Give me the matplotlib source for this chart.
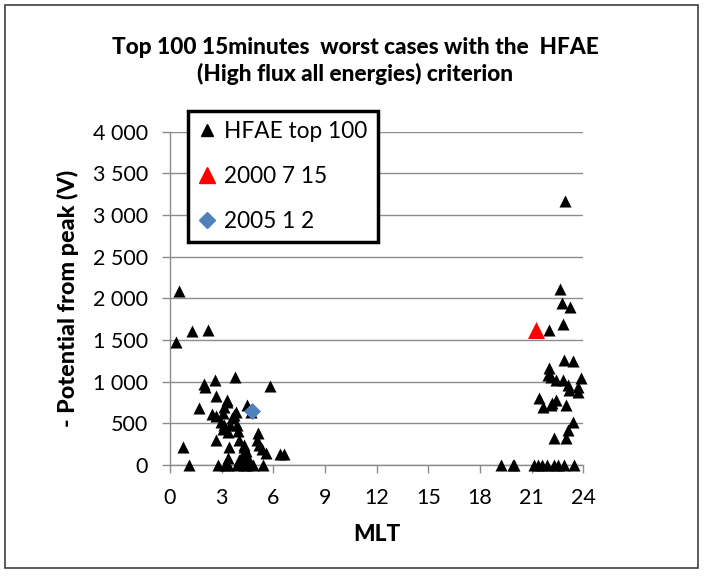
"""Top 100 HFAE worst cases: potential from peak versus MLT."""

import matplotlib
matplotlib.use("Agg")
import matplotlib.pyplot as plt
from matplotlib.lines import Line2D
from matplotlib.patches import Rectangle

plt.rcParams["font.family"] = ["Lato", "DejaVu Sans"]

# HFAE top 100 (black triangles)
mlt_top100 = [
    0.53, 0.37, 1.26, 2.23, 0.74, 1.10, 1.68, 1.97, 2.05, 2.60,
    2.70, 2.44, 2.65, 3.29, 3.15, 3.76, 4.47, 5.81, 2.70, 3.44,
    2.97, 3.10, 3.63, 3.81, 3.89, 3.50, 3.97, 4.02, 4.28, 4.42,
    4.50, 4.68, 5.13, 5.07, 5.34, 5.60, 6.39, 6.65, 2.80, 3.20,
    3.35, 3.90, 4.30, 4.50, 4.80, 5.40, 3.36, 4.02, 3.07, 3.74,
    3.16, 3.35, 4.32, 5.19, 4.20, 4.60, 3.30,
    22.95, 22.63, 22.77, 23.21, 22.82, 22.03, 22.90, 23.40, 22.03, 21.95,
    22.12, 22.41, 22.82, 23.87, 23.09, 23.19, 23.67, 23.67, 21.45, 21.64,
    22.12, 22.41, 22.20, 23.00, 23.38, 23.09, 22.32, 23.00,
    19.22, 19.90, 19.98, 21.15, 21.40, 21.60, 21.91, 22.32, 22.56, 22.90,
    23.48,
]
pot_top100 = [
    2090, 1470, 1605, 1625, 210, 0, 685, 970, 940, 1015,
    830, 610, 590, 780, 700, 1055, 720, 945, 300, 210,
    520, 435, 565, 630, 480, 480, 410, 300, 235, 170,
    80, 630, 380, 300, 190, 145, 135, 135, 0, 0,
    0, 0, 0, 0, 0, 0, 80, 60, 620, 600,
    480, 400, 210, 240, 105, 65, 760,
    3170, 2115, 1940, 1890, 1690, 1625, 1260, 1245, 1160, 1075,
    1060, 1020, 1025, 1045, 960, 900, 930, 875, 800, 700,
    720, 780, 740, 720, 520, 420, 320, 320,
    0, 0, 0, 0, 0, 0, 0, 0, 0, 0,
    0,
]

# highlighted events
mlt_20000715 = [21.24]
pot_20000715 = [1615]
mlt_20050102 = [4.75]
pot_20050102 = [650]

x_ticks = [0, 3, 6, 9, 12, 15, 18, 21, 24]
y_ticks = [0, 500, 1000, 1500, 2000, 2500, 3000, 3500, 4000]
y_tick_labels = ["0", "500", "1 000", "1 500", "2 000", "2 500", "3 000", "3 500", "4 000"]

GRID_COLOR = "#8c8c8c"
FS_TICK = 15.5
FS_TEXT = 16.3


def main() -> None:
    fig = plt.figure(figsize=(7.1, 5.8), dpi=100)
    ax = fig.add_axes([0.2394, 0.1983, 0.5821, 0.5747])

    # outer chart frame
    fig.patches.append(Rectangle((5 / 710, 12 / 580), 693 / 710, 563 / 580,
                                 transform=fig.transFigure, fill=False,
                                 edgecolor="#404040", linewidth=1.2))

    ax.scatter(mlt_top100, pot_top100, marker="^", s=75, color="black",
               linewidths=0, clip_on=False, zorder=3)
    ax.scatter(mlt_20000715, pot_20000715, marker="^", s=150, color="#ff0000",
               linewidths=0, clip_on=False, zorder=4)
    ax.scatter(mlt_20050102, pot_20050102, marker="D", s=75, color="#4f81bd",
               linewidths=0, clip_on=False, zorder=5)

    ax.set_xlim(0, 24)
    ax.set_ylim(0, 4000)
    ax.set_xticks(x_ticks)
    ax.set_yticks(y_ticks)
    ax.set_yticklabels(y_tick_labels)
    ax.tick_params(axis="both", direction="out", length=5.8, width=1.0,
                   color=GRID_COLOR, labelsize=FS_TICK, pad=10)
    ax.tick_params(axis="x", pad=11)
    ax.grid(True, axis="y", color=GRID_COLOR, linewidth=1.0, zorder=0)
    ax.set_axisbelow(True)
    for side in ("top", "right"):
        ax.spines[side].set_visible(False)
    for side in ("left", "bottom"):
        ax.spines[side].set_color(GRID_COLOR)
        ax.spines[side].set_linewidth(1.0)

    ax.set_xlabel("MLT", fontsize=FS_TEXT, fontweight="black", labelpad=11)
    ax.set_ylabel("- Potential from peak (V)", fontsize=16.8, fontweight="black", labelpad=10)

    fig.text(0.5, 0.937, "Top 100 15minutes  worst cases with the  HFAE\n"
             "(High flux all energies) criterion", ha="center", va="top",
             fontsize=FS_TEXT, fontweight="black", linespacing=1.3)

    handles = [
        Line2D([], [], marker="^", linestyle="none", color="black", markersize=8),
        Line2D([], [], marker="^", linestyle="none", color="#ff0000", markersize=11),
        Line2D([], [], marker="D", linestyle="none", color="#4f81bd", markersize=8),
    ]
    leg = fig.legend(handles, ["HFAE top 100", "2000 7 15", "2005 1 2"],
                     loc="upper left", bbox_to_anchor=(188 / 710, 1 - 111 / 580),
                     fontsize=16.3, frameon=True, fancybox=False, handlelength=0.8,
                     handletextpad=0.35, labelspacing=1.05, borderpad=0.45,
                     borderaxespad=0)
    leg.get_frame().set_edgecolor("black")
    leg.get_frame().set_linewidth(2.5)
    leg.get_frame().set_alpha(1)

    fig.savefig("out.png", dpi=100)
    plt.close(fig)


if __name__ == "__main__":
    main()
